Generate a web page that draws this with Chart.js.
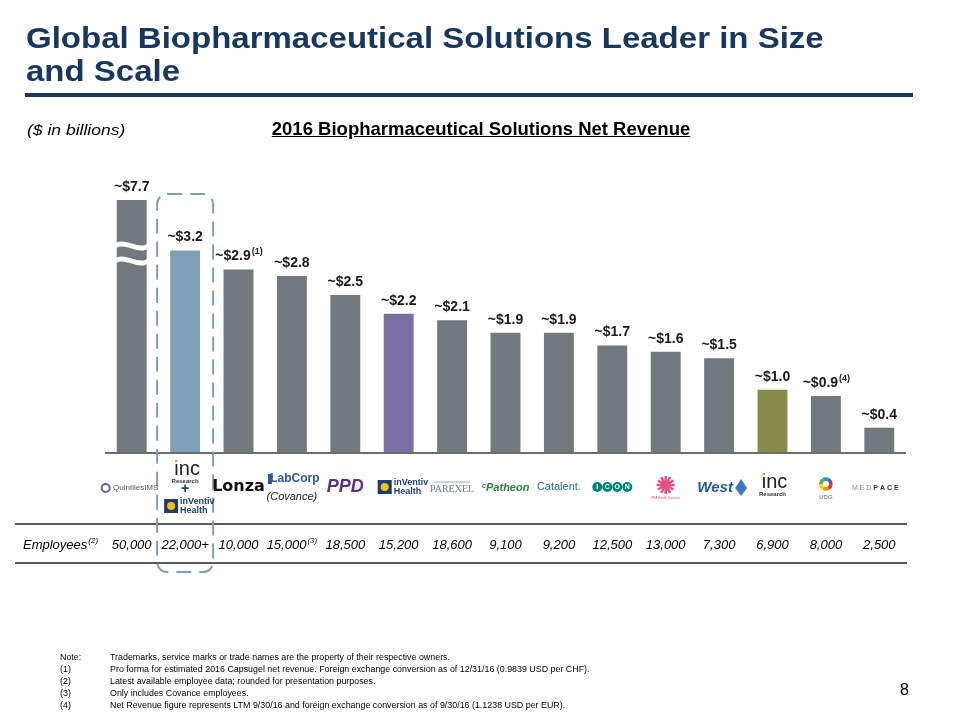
<!DOCTYPE html>
<html><head><meta charset="utf-8">
<script src="https://cdn.jsdelivr.net/npm/chart.js@4.4.1/dist/chart.umd.min.js"></script>
<style>
html,body{margin:0;padding:0;background:#fff;}
#wrap{position:relative;width:960px;height:720px;font-family:"Liberation Sans",Arial,sans-serif;}
canvas{position:absolute;left:0;top:0;}
.t{position:absolute;white-space:nowrap;}
</style></head>
<body>
<div id="wrap">
<canvas id="c" width="960" height="720"></canvas>
<div class="t" style="left:26px;top:21px;font-size:30px;font-weight:bold;color:#17375e;line-height:33px;transform:scaleX(1.1);transform-origin:left top;">Global Biopharmaceutical Solutions Leader in Size<br>and Scale</div>
<div style="position:absolute;left:25px;top:93px;width:888px;height:4px;background:#17375e;"></div>
<div class="t" style="left:27px;top:122px;font-size:14px;font-style:italic;color:#000;transform:scaleX(1.25);transform-origin:left top;">($ in billions)</div>
<div class="t" style="left:0;width:962px;text-align:center;top:118px;font-size:18.5px;font-weight:bold;text-decoration:underline;color:#000;">2016 Biopharmaceutical Solutions Net Revenue</div>
<div class="t" style="left:60px;top:651px;font-size:8.9px;line-height:12px;color:#000;">Note:<br>(1)<br>(2)<br>(3)<br>(4)</div>
<div class="t" style="left:110px;top:651px;font-size:8.9px;line-height:12px;color:#000;">Trademarks, service marks or trade names are the property of their respective owners.<br>Pro forma for estimated 2016 Capsugel net revenue. Foreign exchange conversion as of 12/31/16 (0.9839 USD per CHF).<br>Latest available employee data; rounded for presentation purposes.<br>Only includes Covance employees.<br>Net Revenue figure represents LTM 9/30/16 and foreign exchange conversion as of 9/30/16 (1.1238 USD per EUR).</div>
<div class="t" style="left:900px;top:681px;font-size:16px;color:#000;">8</div>
</div>
<script>
// ---- data ----
const companies = ["QuintilesIMS","INC Research + inVentiv Health","Lonza","LabCorp (Covance)","PPD","inVentiv Health","PAREXEL","Patheon","Catalent","ICON","PRA Health Sciences","West","INC Research","UDG","Medpace"];
const revenue = [7.7,3.2,2.9,2.8,2.5,2.2,2.1,1.9,1.9,1.7,1.6,1.5,1.0,0.9,0.4];
const revenueLabels = ["~$7.7","~$3.2","~$2.9","~$2.8","~$2.5","~$2.2","~$2.1","~$1.9","~$1.9","~$1.7","~$1.6","~$1.5","~$1.0","~$0.9","~$0.4"];
const revenueNotes = ["","","(1)","","","","","","","","","","","(4)",""];
const employees = ["50,000","22,000+","10,000","15,000","18,500","15,200","18,600","9,100","9,200","12,500","13,000","7,300","6,900","8,000","2,500"];
const employeeNotes = ["","","","(3)","","","","","","","","","","",""];
const yAxisMax = 4.0;

const GRAY="#72787e", BLUE="#809fb8", PURPLE="#7a6ea3", OLIVE="#878b49";
const barColors = companies.map((c,i)=> i===1?BLUE : i===5?PURPLE : i===12?OLIVE : GRAY);
const FONT='"Liberation Sans", Arial, sans-serif';

const decor = {
  id:'decor',
  afterDatasetsDraw(chart){
    const ctx=chart.ctx, ca=chart.chartArea, meta=chart.getDatasetMeta(0);
    const y0=chart.scales.y.getPixelForValue(0);
    ctx.save();
    // break symbol on first bar
    const b0=meta.data[0]; const hw=b0.width/2+1;
    ctx.fillStyle="#fff";
    function wave(yc,th){
      ctx.beginPath();
      ctx.moveTo(b0.x-hw,yc-th/2);
      ctx.bezierCurveTo(b0.x-hw/2,yc-th/2-7,b0.x+hw/2,yc-th/2+7,b0.x+hw,yc-th/2);
      ctx.lineTo(b0.x+hw,yc+th/2);
      ctx.bezierCurveTo(b0.x+hw/2,yc+th/2+7,b0.x-hw/2,yc+th/2-7,b0.x-hw,yc+th/2);
      ctx.closePath(); ctx.fill();
    }
    wave(246,5); wave(261,5);
    // baseline
    ctx.strokeStyle="#6d6d6d"; ctx.lineWidth=2;
    ctx.beginPath(); ctx.moveTo(ca.left,y0); ctx.lineTo(ca.right,y0); ctx.stroke();
    // value labels
    ctx.fillStyle="#1a1a1a"; ctx.textBaseline="middle";
    meta.data.forEach((bar,i)=>{
      const top=Math.max(bar.y,ca.top);
      const y=top-13;
      ctx.font='bold 14px '+FONT;
      const w=ctx.measureText(revenueLabels[i]).width;
      let sw=0;
      if(revenueNotes[i]){ctx.font='bold 9px '+FONT; sw=ctx.measureText(revenueNotes[i]).width;}
      let x=bar.x-(w+sw)/2;
      ctx.font='bold 14px '+FONT; ctx.textAlign="left";
      ctx.fillText(revenueLabels[i],x,y);
      if(sw){ctx.font='bold 9px '+FONT; ctx.fillText(revenueNotes[i],x+w+1,y-5);}
    });
    // employees row
    ctx.strokeStyle="#222"; ctx.lineWidth=1.5;
    [524,563].forEach(yy=>{ctx.beginPath();ctx.moveTo(15,yy);ctx.lineTo(907,yy);ctx.stroke();});
    ctx.fillStyle="#000";
    ctx.font='italic 13px '+FONT; ctx.textAlign="left";
    ctx.fillText("Employees",23,545);
    let ew=ctx.measureText("Employees").width;
    ctx.font='italic 8px '+FONT; ctx.fillText("(2)",23+ew+1,541);
    meta.data.forEach((bar,i)=>{
      ctx.font='italic 13px '+FONT;
      const w=ctx.measureText(employees[i]).width;
      let sw=0;
      if(employeeNotes[i]){ctx.font='italic 8px '+FONT; sw=ctx.measureText(employeeNotes[i]).width+1;}
      const x=bar.x-(w+sw)/2;
      ctx.font='italic 13px '+FONT; ctx.fillText(employees[i],x,545);
      if(sw){ctx.font='italic 8px '+FONT; ctx.fillText(employeeNotes[i],x+w+1,541);}
    });
    // dashed rounded box around combined company
    const b1=meta.data[1];
    ctx.strokeStyle="#7f9fb8"; ctx.lineWidth=2; ctx.setLineDash([15,8]);
    ctx.beginPath(); ctx.roundRect(b1.x-28,194,56,378,10); ctx.stroke();
    ctx.setLineDash([]);
    // logos
    meta.data.forEach((bar,i)=>drawLogo(ctx,i,bar.x,488));
    ctx.restore();
  }
};

function txt(ctx,s,x,y,font,color,align){ctx.font=font;ctx.fillStyle=color;ctx.textAlign=align||"center";ctx.textBaseline="middle";ctx.fillText(s,x,y);}
function incLogo(ctx,x,y){
  txt(ctx,"inc",x+2,y-4,'20px '+FONT,"#222");
  ctx.fillStyle="#e8b400"; ctx.fillRect(x-10,y-13,2,2);
  txt(ctx,"Research",x,y+8,'bold 6px '+FONT,"#333");
}
function inventiv(ctx,x,y){
  ctx.fillStyle="#1f3b73"; ctx.fillRect(x-24,y-7,14,14);
  ctx.fillStyle="#f5c400"; ctx.beginPath(); ctx.arc(x-17,y,4,0,Math.PI*2); ctx.fill();
  txt(ctx,"inVentiv",x-8,y-4,'bold 9px '+FONT,"#1f3b73","left");
  txt(ctx,"Health",x-8,y+5,'bold 9px '+FONT,"#1f3b73","left");
}
function drawLogo(ctx,i,x,y){
  switch(i){
    case 0:
      ctx.strokeStyle="#6b5fb5"; ctx.lineWidth=2; ctx.beginPath(); ctx.arc(x-26,y,4,0,Math.PI*2); ctx.stroke();
      txt(ctx,"QuintilesIMS",x+4,y,'8px '+FONT,"#555"); break;
    case 1:
      incLogo(ctx,x,y-15);
      txt(ctx,"+",x,y+1,'bold 14px '+FONT,"#1f3b73");
      inventiv(ctx,x+3,y+18); break;
    case 2: txt(ctx,"Lonza",x,y-1,'bold 16px "DejaVu Sans", '+FONT,"#111"); break;
    case 3:
      ctx.fillStyle="#2a5aa0"; ctx.fillRect(x-24,y-14,4,10);
      txt(ctx,"LabCorp",x+3,y-9,'bold 12px '+FONT,"#2a5aa0");
      txt(ctx,"(Covance)",x,y+9,'italic 11px '+FONT,"#222"); break;
    case 4: txt(ctx,"PPD",x,y-1,'bold italic 18px '+FONT,"#5a2d91"); break;
    case 5: inventiv(ctx,x+3,y-1); break;
    case 6:
      ctx.strokeStyle="#9aa7b8"; ctx.lineWidth=1; ctx.beginPath(); ctx.moveTo(x-18,y-6); ctx.lineTo(x+18,y-6); ctx.stroke();
      txt(ctx,"PAREXEL",x,y+1,'10px "Liberation Serif", serif',"#6a7d96"); break;
    case 7: txt(ctx,"\u1D9CPatheon",x,y,'bold italic 11px '+FONT,"#2f7d3b"); break;
    case 8: txt(ctx,"Catalent.",x,y-1,'11px '+FONT,"#2a6aa8"); break;
    case 9:
      ["I","C","O","N"].forEach((l,k)=>{const cx=x-15+k*10;ctx.fillStyle="#00857a";ctx.beginPath();ctx.arc(cx,y-1,5,0,Math.PI*2);ctx.fill();
        txt(ctx,l,cx,y-1,'bold 7px '+FONT,"#fff");}); break;
    case 10:
      ctx.strokeStyle="#ea4c84"; ctx.lineWidth=2.5;
      for(let k=0;k<6;k++){const a=k*Math.PI/6;ctx.beginPath();ctx.moveTo(x-9*Math.cos(a),y-3-9*Math.sin(a));ctx.lineTo(x+9*Math.cos(a),y-3+9*Math.sin(a));ctx.stroke();}
      txt(ctx,"PRA Health Sciences",x,y+10,'3px '+FONT,"#ea4c84"); break;
    case 11:
      txt(ctx,"West",x-4,y,'bold italic 15px '+FONT,"#1f5aa6");
      ctx.fillStyle="#3a7ac0"; ctx.beginPath(); ctx.moveTo(x+22,y-9);ctx.lineTo(x+28,y);ctx.lineTo(x+22,y+8);ctx.lineTo(x+16,y);ctx.closePath();ctx.fill(); break;
    case 12: incLogo(ctx,x,y-2); break;
    case 13:
      const cols=["#e4312b","#f39200","#ffd400","#5cb531","#009fe3","#7b4a9b"];
      cols.forEach((c,k)=>{ctx.strokeStyle=c;ctx.lineWidth=3.5;ctx.beginPath();ctx.arc(x,y-4,5,k*Math.PI/3,(k+1)*Math.PI/3);ctx.stroke();});
      txt(ctx,"UDG",x,y+9,'6px '+FONT,"#666"); break;
    case 14:
      txt(ctx,"M E D ",x-6,y,'7px '+FONT,"#888","right");
      txt(ctx,"P A C E",x-6,y,'bold 7px '+FONT,"#333","left"); break;
  }
}

new Chart(document.getElementById('c'),{
  type:'bar',
  data:{labels:companies,datasets:[{data:revenue,backgroundColor:barColors,borderWidth:0,clip:0,
    barPercentage:0.56,categoryPercentage:1}]},
  options:{
    responsive:false,animation:false,
    layout:{padding:{left:105,right:54,top:200,bottom:267}},
    plugins:{legend:{display:false},tooltip:{enabled:false},title:{display:false}},
    scales:{
      x:{display:false,grid:{display:false}},
      y:{display:false,min:0,max:yAxisMax}
    }
  },
  plugins:[decor]
});
</script>
</body></html>
